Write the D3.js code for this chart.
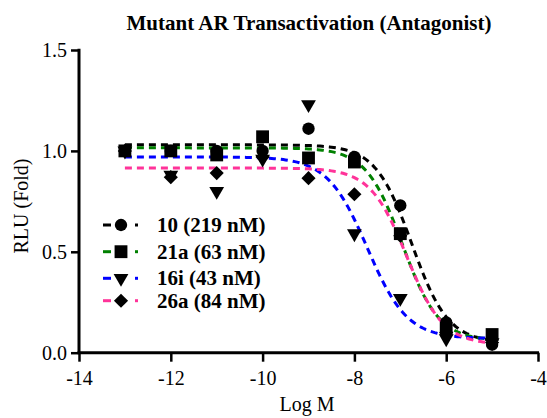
<!DOCTYPE html>
<html>
<head>
<meta charset="utf-8">
<script src="https://cdn.jsdelivr.net/npm/d3@7"></script>
<style>
  body { margin: 0; background: #fff; }
  svg text { font-family: "Times New Roman", "Liberation Serif", "DejaVu Serif", serif; fill: #000; }
</style>
</head>
<body>
<script>
// log concentrations and measured RLU per compound
const logM = [-13, -12, -11, -10, -9, -8, -7, -6, -5];
const names = ["10 (219 nM)", "21a (63 nM)", "16i (43 nM)", "26a (84 nM)"];
const colors = ["#000000", "#008000", "#0000ff", "#ff3399"];
const vals10 = [1.00, 1.00, 1.00, 1.00, 1.11, 0.97, 0.73, 0.15, 0.04];
const vals21a = [1.00, 1.00, 0.98, 1.07, 0.965, 0.945, 0.59, 0.12, 0.09];
const vals16i = [1.00, 0.88, 0.80, 0.96, 1.23, 0.59, 0.27, 0.07, 0.05];
const vals26a = [1.00, 0.87, 0.89, 0.97, 0.865, 0.785, 0.58, 0.10, 0.05];
// fitted curve params: top, bottom, logIC50, hill
const tops = [1.03, 1.015, 0.97, 0.915];
const bottoms = [0.05, 0.06, 0.07, 0.04];
const logIC50 = [-6.75, -6.955, -7.72, -6.86];
const hills = [1.1, 1.1, 1.0, 1.09];
const xTicks = [-14, -12, -10, -8, -6, -4];
const yTicks = [0, 0.5, 1.0, 1.5];

const allVals = [vals10, vals21a, vals16i, vals26a];

const svg = d3.select("body").append("svg")
    .attr("width", 547)
    .attr("height", 418);

const x = d3.scaleLinear().domain([-14, -4]).range([79, 538]);
const y = d3.scaleLinear().domain([0, 1.5]).range([352.7, 50]);

// marker shapes: circle, square, down triangle, diamond
const marker = (s) => {
    if (s == 0) return d3.symbol().type(d3.symbolCircle).size(120)();
    if (s == 1) return d3.symbol().type(d3.symbolSquare).size(165)();
    if (s == 2) return d3.symbol().type(d3.symbolTriangle).size(95)();
    return d3.symbol().type(d3.symbolSquare).size(100)();
};
const rot = (s) => s == 2 ? " rotate(180)" : (s == 3 ? " rotate(45)" : "");

// curves
const line = d3.line().x(d => x(d[0])).y(d => y(d[1]));
for (let s = 0; s < 4; s++) {
    let pts = [];
    for (let v = -13; v <= -4.999; v += 0.05) {
        let f = 1 / (1 + Math.pow(10, hills[s] * (v - logIC50[s])));
        pts.push([v, bottoms[s] + (tops[s] - bottoms[s]) * f]);
    }
    svg.append("path")
        .attr("d", line(pts))
        .attr("fill", "none")
        .attr("stroke", colors[s])
        .attr("stroke-width", 3)
        .attr("stroke-dasharray", "7,5");
}

// points
for (let s = 0; s < 4; s++) {
    svg.selectAll(null)
        .data(logM.map((m, i) => [m, allVals[s][i]]))
        .enter()
        .append("path")
        .attr("d", marker(s))
        .attr("transform", d => "translate(" + x(d[0]) + "," + y(d[1]) + ")" + rot(s))
        .attr("fill", "#000");
}

// axes
const fmtX = d => String(d).replace("−", "-");
const xAxis = svg.append("g")
    .attr("transform", "translate(0,352.7)")
    .call(d3.axisBottom(x).tickValues(xTicks).tickSize(9).tickPadding(9).tickFormat(fmtX));
const yAxis = svg.append("g")
    .attr("transform", "translate(79,0)")
    .call(d3.axisLeft(y).tickValues(yTicks).tickSize(8).tickPadding(4).tickFormat(d3.format(".1f")));
[xAxis, yAxis].forEach(g => {
    g.attr("font-family", null);
    g.select(".domain").remove();
    g.selectAll(".tick line").attr("stroke-width", 2.5);
    g.selectAll("text").style("font-size", "20px");
});
svg.append("line").attr("x1", 79).attr("x2", 79).attr("y1", 48.8).attr("y2", 354)
    .attr("stroke", "#000").attr("stroke-width", 3);
svg.append("line").attr("x1", 77.5).attr("x2", 539).attr("y1", 352.7).attr("y2", 352.7)
    .attr("stroke", "#000").attr("stroke-width", 3);

// titles
svg.append("text").attr("x", 309).attr("y", 30).attr("text-anchor", "middle")
    .style("font-size", "21px").style("font-weight", "bold")
    .text("Mutant AR Transactivation (Antagonist)");
svg.append("text").attr("x", 307).attr("y", 411).attr("text-anchor", "middle")
    .style("font-size", "20px").text("Log M");
svg.append("text").attr("transform", "translate(28,206) rotate(-90)").attr("text-anchor", "middle")
    .style("font-size", "20px").text("RLU (Fold)");

// legend
const legY = [225, 251.7, 278.3, 300.7];
for (let s = 0; s < 4; s++) {
    const g = svg.append("g").attr("transform", "translate(0," + legY[s] + ")");
    g.append("line").attr("x1", 103).attr("x2", 138).attr("y1", 0).attr("y2", 0)
        .attr("stroke", colors[s]).attr("stroke-width", 3).attr("stroke-dasharray", "8,27");
    g.append("line").attr("x1", 135).attr("x2", 138).attr("y1", 0).attr("y2", 0)
        .attr("stroke", colors[s]).attr("stroke-width", 3);
    g.append("path")
        .attr("d", marker(s))
        .attr("transform", "translate(121,0)" + rot(s))
        .attr("fill", "#000");
    g.append("text").attr("x", 157).attr("y", 7)
        .style("font-size", "21px").style("font-weight", "bold")
        .text(names[s]);
}
</script>
</body>
</html>
